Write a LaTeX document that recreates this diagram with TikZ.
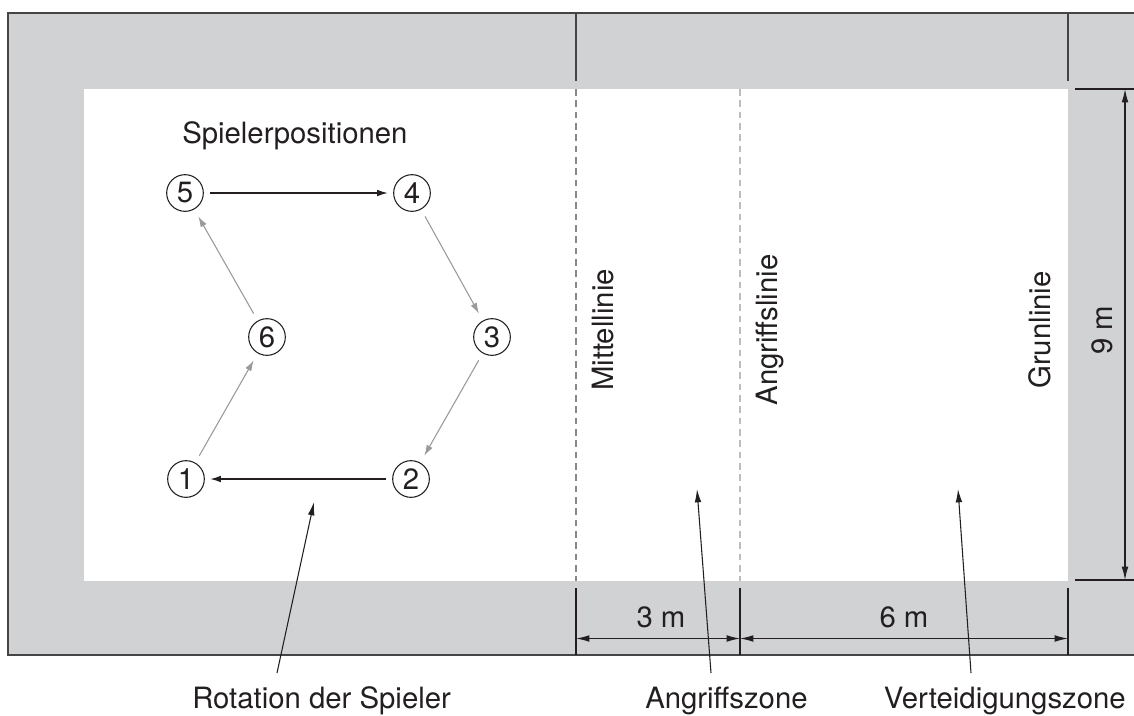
\documentclass[tikz,border=0pt]{standalone}
\usepackage{fontspec}
\setmainfont{TeX Gyre Heros}
\usetikzlibrary{arrows.meta}
\definecolor{court}{HTML}{D1D2D4}
\definecolor{ink}{HTML}{231F20}
\definecolor{edge}{HTML}{454545}
\definecolor{midl}{HTML}{888888}
\definecolor{attl}{HTML}{BDBDBD}
\definecolor{rotg}{HTML}{9A9A9A}
\begin{document}
\begin{tikzpicture}[x=0.75pt,y=-0.75pt,
 txt/.style={font=\fontsize{22}{24}\selectfont, text=ink, inner sep=0},
 plcirc/.style={circle, draw=ink, line width=0.8pt, minimum size=27.5pt, inner sep=0, font=\fontsize{22}{24}\selectfont, text=ink},
 blk/.style={draw=ink, line width=1pt, -{Latex[length=8pt,width=5pt]}, shorten <=4.5pt, shorten >=4pt},
 gry/.style={draw=rotg, line width=0.8pt, -{Latex[length=8pt,width=5pt]}, shorten <=6pt, shorten >=6pt},
 dimline/.style={draw=ink, line width=0.8pt, {Latex[length=10pt,width=5pt]}-{Latex[length=10pt,width=5pt]}},
 lead/.style={draw=ink, line width=0.8pt, -{Latex[length=10pt,width=5pt]}},
 seg/.style={draw=edge, line width=1pt},
 ext/.style={draw=ink, line width=0.8pt},
]
\useasboundingbox (0,0) rectangle (1134,715);
\fill[white] (0,0) rectangle (1134,715);
\fill[court] (8,13) rectangle (1134,655);
\fill[white] (84,89) rectangle (1068,581);
\draw[edge, line width=1.2pt] (1134,13) -- (8,13) -- (8,655) -- (1134,655);

% court lines
\coordinate (mtA) at (576,13); \coordinate (mtB) at (576,81);
\coordinate (mdA) at (576,89); \coordinate (mdB) at (576,581);
\coordinate (mbA) at (576,588); \coordinate (mbB) at (576,655);
\coordinate (adA) at (740,89); \coordinate (adB) at (740,581);
\coordinate (abA) at (740,588); \coordinate (abB) at (740,655);
\coordinate (etA) at (1068,13); \coordinate (etB) at (1068,81);
\coordinate (ebA) at (1068,588); \coordinate (ebB) at (1068,655);
\draw[seg] (mtA) -- (mtB);
\draw[seg] (etA) -- (etB);
\draw[draw=midl, line width=1.4pt, dash pattern=on 5pt off 3.5pt] (mdA) -- (mdB);
\draw[draw=attl, line width=0.8pt, dash pattern=on 5pt off 3.5pt] (adA) -- (adB);
\draw[ext] (mbA) -- (mbB);
\draw[ext] (abA) -- (abB);
\draw[ext] (ebA) -- (ebB);

% 9 m dimension
\coordinate (xtA) at (1075,89); \coordinate (xtB) at (1134,89);
\coordinate (xbA) at (1075,580); \coordinate (xbB) at (1134,580);
\coordinate (d9A) at (1125,89); \coordinate (d9B) at (1125,580);
\draw[ext] (xtA) -- (xtB);
\draw[ext] (xbA) -- (xbB);
\draw[dimline] (d9A) -- (d9B);
\node[txt, rotate=90, anchor=base] (l9) at (1112,330) {9 m};

% 3 m / 6 m dimensions
\coordinate (d3A) at (576,638.5); \coordinate (d3B) at (740,638.5);
\coordinate (d6B) at (1068,638.5);
\draw[dimline] (d3A) -- (d3B);
\draw[dimline] (d3B) -- (d6B);
\node[txt, anchor=base] (l3) at (661,627) {3 m};
\node[txt, anchor=base] (l6) at (904,627) {6 m};

% line labels
\node[txt, rotate=90, anchor=base] (mitt) at (613,330) {Mittellinie};
\node[txt, rotate=90, anchor=base] (angl) at (777,330) {Angriffslinie};
\node[txt, rotate=90, anchor=base] (grun) at (1050,330) {Grunlinie};

% positions
\node[txt, anchor=base west] (title) at (182,143) {Spielerpositionen};
\node[plcirc] (p5) at (185,193) {5};
\node[plcirc] (p4) at (412,193) {4};
\node[plcirc] (p6) at (267,337) {6};
\node[plcirc] (p3) at (492,337) {3};
\node[plcirc] (p1) at (186,479) {1};
\node[plcirc] (p2) at (411,479) {2};
\draw[blk] (p5) -- (p4);
\draw[gry] (p4) -- (p3);
\draw[gry] (p3) -- (p2);
\draw[blk] (p2) -- (p1);
\draw[gry] (p1) -- (p6);
\draw[gry] (p6) -- (p5);

% bottom labels with leaders
\node[txt, anchor=base west] (rot) at (192,708) {Rotation der Spieler};
\node[txt, anchor=base west] (azone) at (645,708) {Angriffszone};
\node[txt, anchor=base east] (vzone) at (1126,708) {Verteidigungszone};
\coordinate (rA) at (277,673); \coordinate (rB) at (314,502);
\coordinate (aA) at (711,673); \coordinate (aB) at (697,489);
\coordinate (vA) at (971,673); \coordinate (vB) at (958,489);
\draw[lead] (rA) -- (rB);
\draw[lead] (aA) -- (aB);
\draw[lead] (vA) -- (vB);
\end{tikzpicture}
\end{document}
